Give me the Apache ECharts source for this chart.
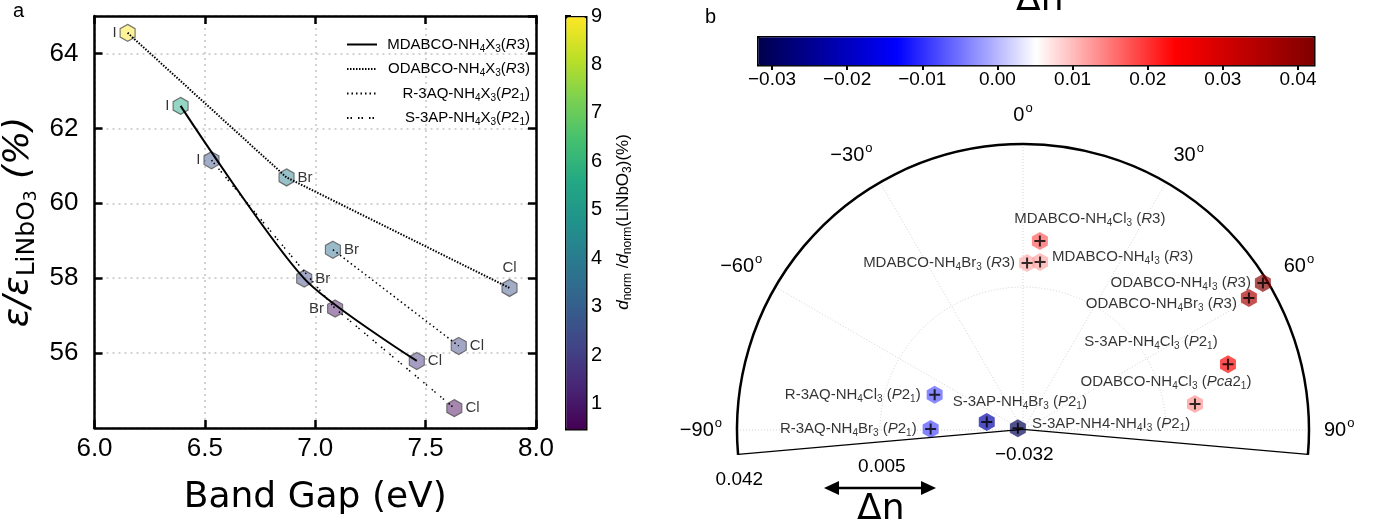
<!DOCTYPE html>
<html>
<head>
<meta charset="utf-8">
<script src="https://cdn.jsdelivr.net/npm/echarts@6/dist/echarts.min.js"></script>
<style>
html, body { margin: 0; padding: 0; background: #fff; }
#chart { width: 1375px; height: 528px; }
</style>
</head>
<body>
<div id="chart"></div>
<script>
// ---- panel a: permittivity ratio vs band gap ----
const HALIDES = ['I', 'Br', 'Cl'];
const MDABCO_GAP = [6.39, 6.95, 7.46];
const MDABCO_EPS = [62.60, 57.99, 55.79];
const MDABCO_D = [5.6, 2.4, 1.8];
const ODABCO_GAP = [6.15, 6.87, 7.88];
const ODABCO_EPS = [64.55, 60.69, 57.74];
const ODABCO_D = [9.0, 4.1, 2.6];
const R3AQ_HALIDES = ['Br', 'Cl'];
const R3AQ_GAP = [7.08, 7.65];
const R3AQ_EPS = [58.76, 56.19];
const R3AQ_D = [3.6, 2.2];
const S3AP_GAP = [6.53, 7.09, 7.63];
const S3AP_EPS = [61.15, 57.19, 54.53];
const S3AP_D = [2.6, 0.9, 0.6];
const DNORM_TICKS = [1, 2, 3, 4, 5, 6, 7, 8, 9];

// ---- panel b: birefringence on polar axes ----
const COMPOUNDS = [
    '{t|MDABCO-NH}{s|4}{t|Cl}{s|3}{t| (}{i|R}{t|3)}',
    '{t|MDABCO-NH}{s|4}{t|Br}{s|3}{t| (}{i|R}{t|3)}',
    '{t|MDABCO-NH}{s|4}{t|I}{s|3}{t| (}{i|R}{t|3)}',
    '{t|ODABCO-NH}{s|4}{t|I}{s|3}{t| (}{i|R}{t|3)}',
    '{t|ODABCO-NH}{s|4}{t|Br}{s|3}{t| (}{i|R}{t|3)}',
    '{t|S-3AP-NH}{s|4}{t|Cl}{s|3}{t| (}{i|P}{t|2}{s|1}{t|)}',
    '{t|ODABCO-NH}{s|4}{t|Cl}{s|3}{t| (}{i|Pca}{t|2}{s|1}{t|)}',
    '{t|R-3AQ-NH}{s|4}{t|Cl}{s|3}{t| (}{i|P}{t|2}{s|1}{t|)}',
    '{t|R-3AQ-NH}{s|4}{t|Br}{s|3}{t| (}{i|P}{t|2}{s|1}{t|)}',
    '{t|S-3AP-NH}{s|4}{t|Br}{s|3}{t| (}{i|P}{t|2}{s|1}{t|)}',
    '{t|S-3AP-NH4-NH}{s|4}{t|I}{s|3}{t| (}{i|P}{t|2}{s|1}{t|)}'
];
const DELTA_N = [0.0171, 0.0112, 0.0117, 0.0408, 0.0357, 0.0237, 0.0130, -0.0074, -0.0081, -0.0224, -0.0306];
const THETA = [5.1, 1.4, 5.8, 58.5, 59.7, 72.2, 81.4, -68.3, -89.4, -77.5, -71];
const DN_TICKS = [-0.03, -0.02, -0.01, 0.00, 0.01, 0.02, 0.03, 0.04];

const DN_MIN = -0.032, DN_MAX = 0.042;
const THETA_LIM = 95;

// label placement (style only)
const POLAR_LABEL = [
    { position: 'top', distance: 4, offset: [50, 0] },
    { position: 'left', distance: 4 },
    { position: 'right', distance: 4, offset: [0, -5] },
    { position: 'left', distance: 4 },
    { position: 'left', distance: 4, offset: [0, 6] },
    { position: 'top', distance: 4, offset: [-77, 0] },
    { position: 'top', distance: 4, offset: [-29, 0] },
    { position: 'left', distance: 6 },
    { position: 'left', distance: 6 },
    { position: 'top', distance: 2, offset: [33, 0] },
    { position: 'right', distance: 6, offset: [0, -4] }
];
const LEFT_LABEL = {
    MDABCO: ['left', 'right', 'right'],
    ODABCO: ['left', 'right', 'top'],
    R3AQ: ['right', 'right'],
    S3AP: ['left', 'left', 'right']
};

const VIRIDIS = ['#440154', '#482475', '#414487', '#355f8d', '#2a788e', '#21918c',
    '#22a884', '#44bf70', '#7ad151', '#bddf26', '#fde725'];
const SEISMIC = ['#00004d', '#0000ff', '#ffffff', '#ff0000', '#800000'];

const HEX = 'path://M0,-10L8.66,-5L8.66,5L0,10L-8.66,5L-8.66,-5Z';
const PLUS = 'path://M-5,0L5,0M0,-5L0,5';
const FONT = 'Liberation Sans';
const minus = s => s.replace('-', '\u2212');

const richText = {
    t: { fontSize: 15, fontFamily: FONT, color: '#000' },
    s: { fontSize: 10, fontFamily: FONT, color: '#000', padding: [9, 0, 0, 0] },
    i: { fontSize: 15, fontFamily: FONT, color: '#000', fontStyle: 'italic' }
};
// same styles, laid out from the right edge of the legend text box
const legendRich = {};
Object.keys(richText).forEach(k => { legendRich[k] = Object.assign({ align: 'right' }, richText[k]); });

function hexPoints(gap, eps, d, halides, pos) {
    return gap.map((g, k) => ({
        value: [g, eps[k], d[k]],
        name: halides[k],
        label: { position: pos[k] }
    }));
}
const leftPoints = [].concat(
    hexPoints(MDABCO_GAP, MDABCO_EPS, MDABCO_D, HALIDES, LEFT_LABEL.MDABCO),
    hexPoints(ODABCO_GAP, ODABCO_EPS, ODABCO_D, HALIDES, LEFT_LABEL.ODABCO),
    hexPoints(R3AQ_GAP, R3AQ_EPS, R3AQ_D, R3AQ_HALIDES, LEFT_LABEL.R3AQ),
    hexPoints(S3AP_GAP, S3AP_EPS, S3AP_D, HALIDES, LEFT_LABEL.S3AP)
);
const pairs = (xs, ys) => xs.map((x, k) => [x, ys[k]]);

const polarPoints = DELTA_N.map((r, k) => ({
    value: [r, THETA[k]],
    label: Object.assign({ show: true, formatter: COMPOUNDS[k], rich: richText }, POLAR_LABEL[k])
}));

const legendNames = {
    'MDABCO': '{t|MDABCO-NH}{s|4}{t|X}{s|3}{t|(}{i|R}{t|3)}',
    'ODABCO': '{t|ODABCO-NH}{s|4}{t|X}{s|3}{t|(}{i|R}{t|3)}',
    'R-3AQ': '{t|R-3AQ-NH}{s|4}{t|X}{s|3}{t|(}{i|P}{t|2}{s|1}{t|)}',
    'S-3AP': '{t|S-3AP-NH}{s|4}{t|X}{s|3}{t|(}{i|P}{t|2}{s|1}{t|)}'
};

const axisBlack = { lineStyle: { color: '#000', width: 2.5 } };
const gridLine = { show: true, lineStyle: { color: '#c4c4c4', width: 1.5, type: [2, 4] } };
const polarGrid = { show: true, lineStyle: { color: '#c8c8c8', width: 0.8, type: [1, 2] } };

const lineBase = {
    type: 'line', symbol: 'none', xAxisIndex: 0, yAxisIndex: 0, z: 3, silent: true,
    itemStyle: { color: '#000' }
};

const option = {
    animation: false,
    backgroundColor: '#fff',
    title: [
        { text: 'a', left: 8, top: -4, textStyle: { fontFamily: FONT, fontSize: 20, fontWeight: 'normal', color: '#000' } },
        { text: 'b', left: 700, top: 2, textStyle: { fontFamily: FONT, fontSize: 20, fontWeight: 'normal', color: '#000' } }
    ],
    legend: {
        orient: 'vertical',
        left: 341, top: 32,
        itemWidth: 30, itemHeight: 14, itemGap: 7.5,
        itemStyle: { opacity: 0 },
        data: ['MDABCO', 'ODABCO', 'R-3AQ', 'S-3AP'],
        formatter: n => legendNames[n],
        textStyle: { width: 148, rich: legendRich }
    },
    grid: [
        { left: 91, top: 16, width: 445, height: 412 },
        { left: 565, top: 16, width: 20, height: 412 },
        { left: 757, top: 36, width: 556, height: 28 }
    ],
    xAxis: [
        {
            gridIndex: 0, type: 'value', min: 6, max: 8, interval: 0.5,
            axisLine: axisBlack,
            axisTick: { inside: true, length: 8, lineStyle: { width: 2.5, color: '#000' } },
            axisLabel: { fontFamily: FONT, fontSize: 26, color: '#000', margin: 8, formatter: v => v.toFixed(1) },
            splitLine: gridLine,
            name: 'Band Gap (eV)', nameLocation: 'middle', nameGap: 52,
            nameTextStyle: { fontFamily: 'DejaVu Sans', fontSize: 36, color: '#000' }
        },
        {
            gridIndex: 0, type: 'value', position: 'top', min: 6, max: 8, interval: 0.5,
            axisLine: axisBlack,
            axisTick: { inside: true, length: 8, lineStyle: { width: 2.5, color: '#000' } },
            axisLabel: { show: false }, splitLine: { show: false }
        },
        { gridIndex: 1, type: 'value', show: false, min: 0, max: 1 },
        {
            gridIndex: 2, type: 'value', min: DN_MIN, max: DN_MAX,
            axisLine: { show: false },
            axisTick: { customValues: DN_TICKS, length: 6, lineStyle: { width: 2, color: '#000' } },
            axisLabel: {
                customValues: DN_TICKS, fontFamily: FONT, fontSize: 19, color: '#000', margin: 6,
                formatter: v => minus(v.toFixed(2))
            },
            splitLine: { show: false }
        }
    ],
    yAxis: [
        {
            gridIndex: 0, type: 'value', min: 54, max: 65, interval: 2,
            axisLine: axisBlack,
            axisTick: { inside: true, length: 8, lineStyle: { width: 2.5, color: '#000' } },
            axisLabel: { fontFamily: FONT, fontSize: 26, color: '#000', margin: 16, showMinLabel: false, showMaxLabel: false },
            splitLine: gridLine,
            name: '{e|\u03b5/\u03b5}{b|LiNbO}{c|3}{e| (%)}', nameLocation: 'middle', nameGap: 54, nameRotate: 90,
            nameTextStyle: {
                rich: {
                    e: { fontFamily: 'DejaVu Sans', fontSize: 36, color: '#000', fontStyle: 'italic' },
                    b: { fontFamily: 'DejaVu Sans', fontSize: 25, color: '#000', padding: [16, 0, 0, 0] },
                    c: { fontFamily: 'DejaVu Sans', fontSize: 17, color: '#000', padding: [26, 0, 0, 0] }
                }
            }
        },
        {
            gridIndex: 0, type: 'value', position: 'right', min: 54, max: 65, interval: 2,
            axisLine: axisBlack,
            axisTick: { inside: true, length: 8, lineStyle: { width: 2.5, color: '#000' } },
            axisLabel: { show: false }, splitLine: { show: false }
        },
        {
            gridIndex: 1, type: 'value', position: 'right', min: 0.5, max: 9,
            axisLine: { show: false },
            axisTick: { customValues: DNORM_TICKS, length: 6, lineStyle: { width: 2, color: '#000' } },
            axisLabel: { customValues: DNORM_TICKS, fontFamily: FONT, fontSize: 20, color: '#000', margin: 6 },
            splitLine: { show: false },
            name: '{i|d}{s|norm}{t| /}{i|d}{s|norm}{t|(LiNbO}{s|3}{t|)(%)}',
            nameLocation: 'middle', nameGap: 28, nameRotate: 90,
            nameTextStyle: {
                rich: {
                    t: { fontFamily: FONT, fontSize: 17, color: '#000' },
                    i: { fontFamily: FONT, fontSize: 17, color: '#000', fontStyle: 'italic' },
                    s: { fontFamily: FONT, fontSize: 12, color: '#000', padding: [9, 0, 0, 0] }
                }
            }
        },
        { gridIndex: 2, type: 'value', show: false, min: 0, max: 1 }
    ],
    polar: [
        { center: [1023, 430], radius: 286 },
        { center: [1023, 430], radius: 286 }
    ],
    angleAxis: [
        {
            polarIndex: 0, type: 'value', min: -THETA_LIM, max: THETA_LIM,
            startAngle: 90 + THETA_LIM, endAngle: 90 - THETA_LIM, clockwise: true,
            axisLine: { show: true, lineStyle: { color: '#000', width: 2.5 } },
            axisTick: { show: false }, axisLabel: { show: false }, splitLine: { show: false }
        },
        {
            polarIndex: 1, type: 'value', min: -90, max: 90, interval: 30,
            startAngle: 180, endAngle: 0, clockwise: true,
            axisLine: { show: false }, axisTick: { show: false },
            axisLabel: {
                margin: 15,
                formatter: v => '{n|' + minus(String(v)) + '}{o|o}',
                rich: {
                    n: { fontFamily: FONT, fontSize: 20, color: '#000' },
                    o: { fontFamily: FONT, fontSize: 13, color: '#000', padding: [0, 0, 14, 1] }
                }
            },
            splitLine: polarGrid
        }
    ],
    radiusAxis: [
        {
            polarIndex: 0, type: 'value', min: DN_MIN, max: DN_MAX, interval: 0.037,
            axisLine: { show: false }, axisTick: { show: false }, splitLine: { show: false },
            axisLabel: {
                fontFamily: FONT, fontSize: 19, color: '#000', margin: 15,
                align: 'center', verticalAlign: 'top',
                formatter: v => minus(v.toFixed(3))
            }
        },
        {
            polarIndex: 1, type: 'value', min: DN_MIN, max: DN_MAX, interval: 0.037,
            axisLine: { show: false }, axisTick: { show: false }, axisLabel: { show: false },
            splitLine: polarGrid
        }
    ],
    visualMap: [
        {
            type: 'continuous', seriesIndex: 4, dimension: 2, min: 0.5, max: 9,
            orient: 'vertical', left: 565, top: 16, itemWidth: 20, itemHeight: 412,
            padding: 0, calculable: false, hoverLink: false, text: null,
            borderColor: '#000', borderWidth: 2.5,
            inRange: { color: VIRIDIS, colorAlpha: 0.6 },
            controller: { inRange: { color: VIRIDIS, colorAlpha: 1 } }
        },
        {
            type: 'continuous', seriesIndex: 6, dimension: 0, min: DN_MIN, max: DN_MAX,
            orient: 'horizontal', left: 757, top: 36, itemWidth: 28, itemHeight: 556,
            padding: 0, calculable: false, hoverLink: false, text: null,
            borderColor: '#000', borderWidth: 2.5,
            inRange: { color: SEISMIC, colorAlpha: 0.85 },
            controller: { inRange: { color: SEISMIC, colorAlpha: 1 } }
        }
    ],
    graphic: [
        { type: 'text', left: 1016, top: -17, style: { text: '\u0394n', font: '36px "DejaVu Sans"', fill: '#000' } },
        { type: 'line', shape: { x1: 830, y1: 488, x2: 930, y2: 488 }, style: { stroke: '#000', lineWidth: 2.5 } },
        { type: 'polygon', shape: { points: [[824, 488], [839, 481], [839, 495]] }, style: { fill: '#000' } },
        { type: 'polygon', shape: { points: [[936, 488], [921, 481], [921, 495]] }, style: { fill: '#000' } },
        { type: 'text', left: 857, top: 492, style: { text: '\u0394n', font: '36px "DejaVu Sans"', fill: '#000' } }
    ],
    series: [
        Object.assign({}, lineBase, {
            name: 'MDABCO', smooth: 0.25, data: pairs(MDABCO_GAP, MDABCO_EPS),
            lineStyle: { color: '#000', width: 2 }
        }),
        Object.assign({}, lineBase, {
            name: 'ODABCO', data: pairs(ODABCO_GAP, ODABCO_EPS),
            lineStyle: { color: '#000', width: 2, type: [1.5, 1.5] }
        }),
        Object.assign({}, lineBase, {
            name: 'R-3AQ', data: pairs(R3AQ_GAP, R3AQ_EPS),
            lineStyle: { color: '#000', width: 1.5, type: [1.5, 3] }
        }),
        Object.assign({}, lineBase, {
            name: 'S-3AP', data: pairs(S3AP_GAP, S3AP_EPS),
            lineStyle: { color: '#000', width: 1.5, type: [1.5, 2, 1.5, 6] }
        }),
        {
            type: 'scatter', xAxisIndex: 0, yAxisIndex: 0, z: 2, silent: true,
            symbol: HEX, symbolSize: [15, 17],
            itemStyle: { borderColor: '#555', borderWidth: 1.2 },
            label: { show: true, formatter: '{b}', fontFamily: FONT, fontSize: 15, color: '#000', distance: 3 },
            data: leftPoints
        },
        {
            type: 'line', coordinateSystem: 'polar', polarIndex: 0, symbol: 'none', silent: true, z: 4,
            lineStyle: { color: '#000', width: 2.5 },
            data: [[DN_MAX, -THETA_LIM], [DN_MIN, 0], [DN_MAX, THETA_LIM]]
        },
        {
            type: 'scatter', coordinateSystem: 'polar', polarIndex: 0, silent: true, z: 3,
            symbol: HEX, symbolSize: [16, 18],
            data: polarPoints
        },
        {
            type: 'scatter', coordinateSystem: 'polar', polarIndex: 0, silent: true, z: 5,
            symbol: PLUS, symbolSize: 11,
            itemStyle: { color: 'rgba(0,0,0,0)', borderColor: '#000', borderWidth: 2 },
            data: DELTA_N.map((r, k) => [r, THETA[k]])
        }
    ]
};

const chart = echarts.init(document.getElementById('chart'));
chart.setOption(option);
</script>
</body>
</html>
